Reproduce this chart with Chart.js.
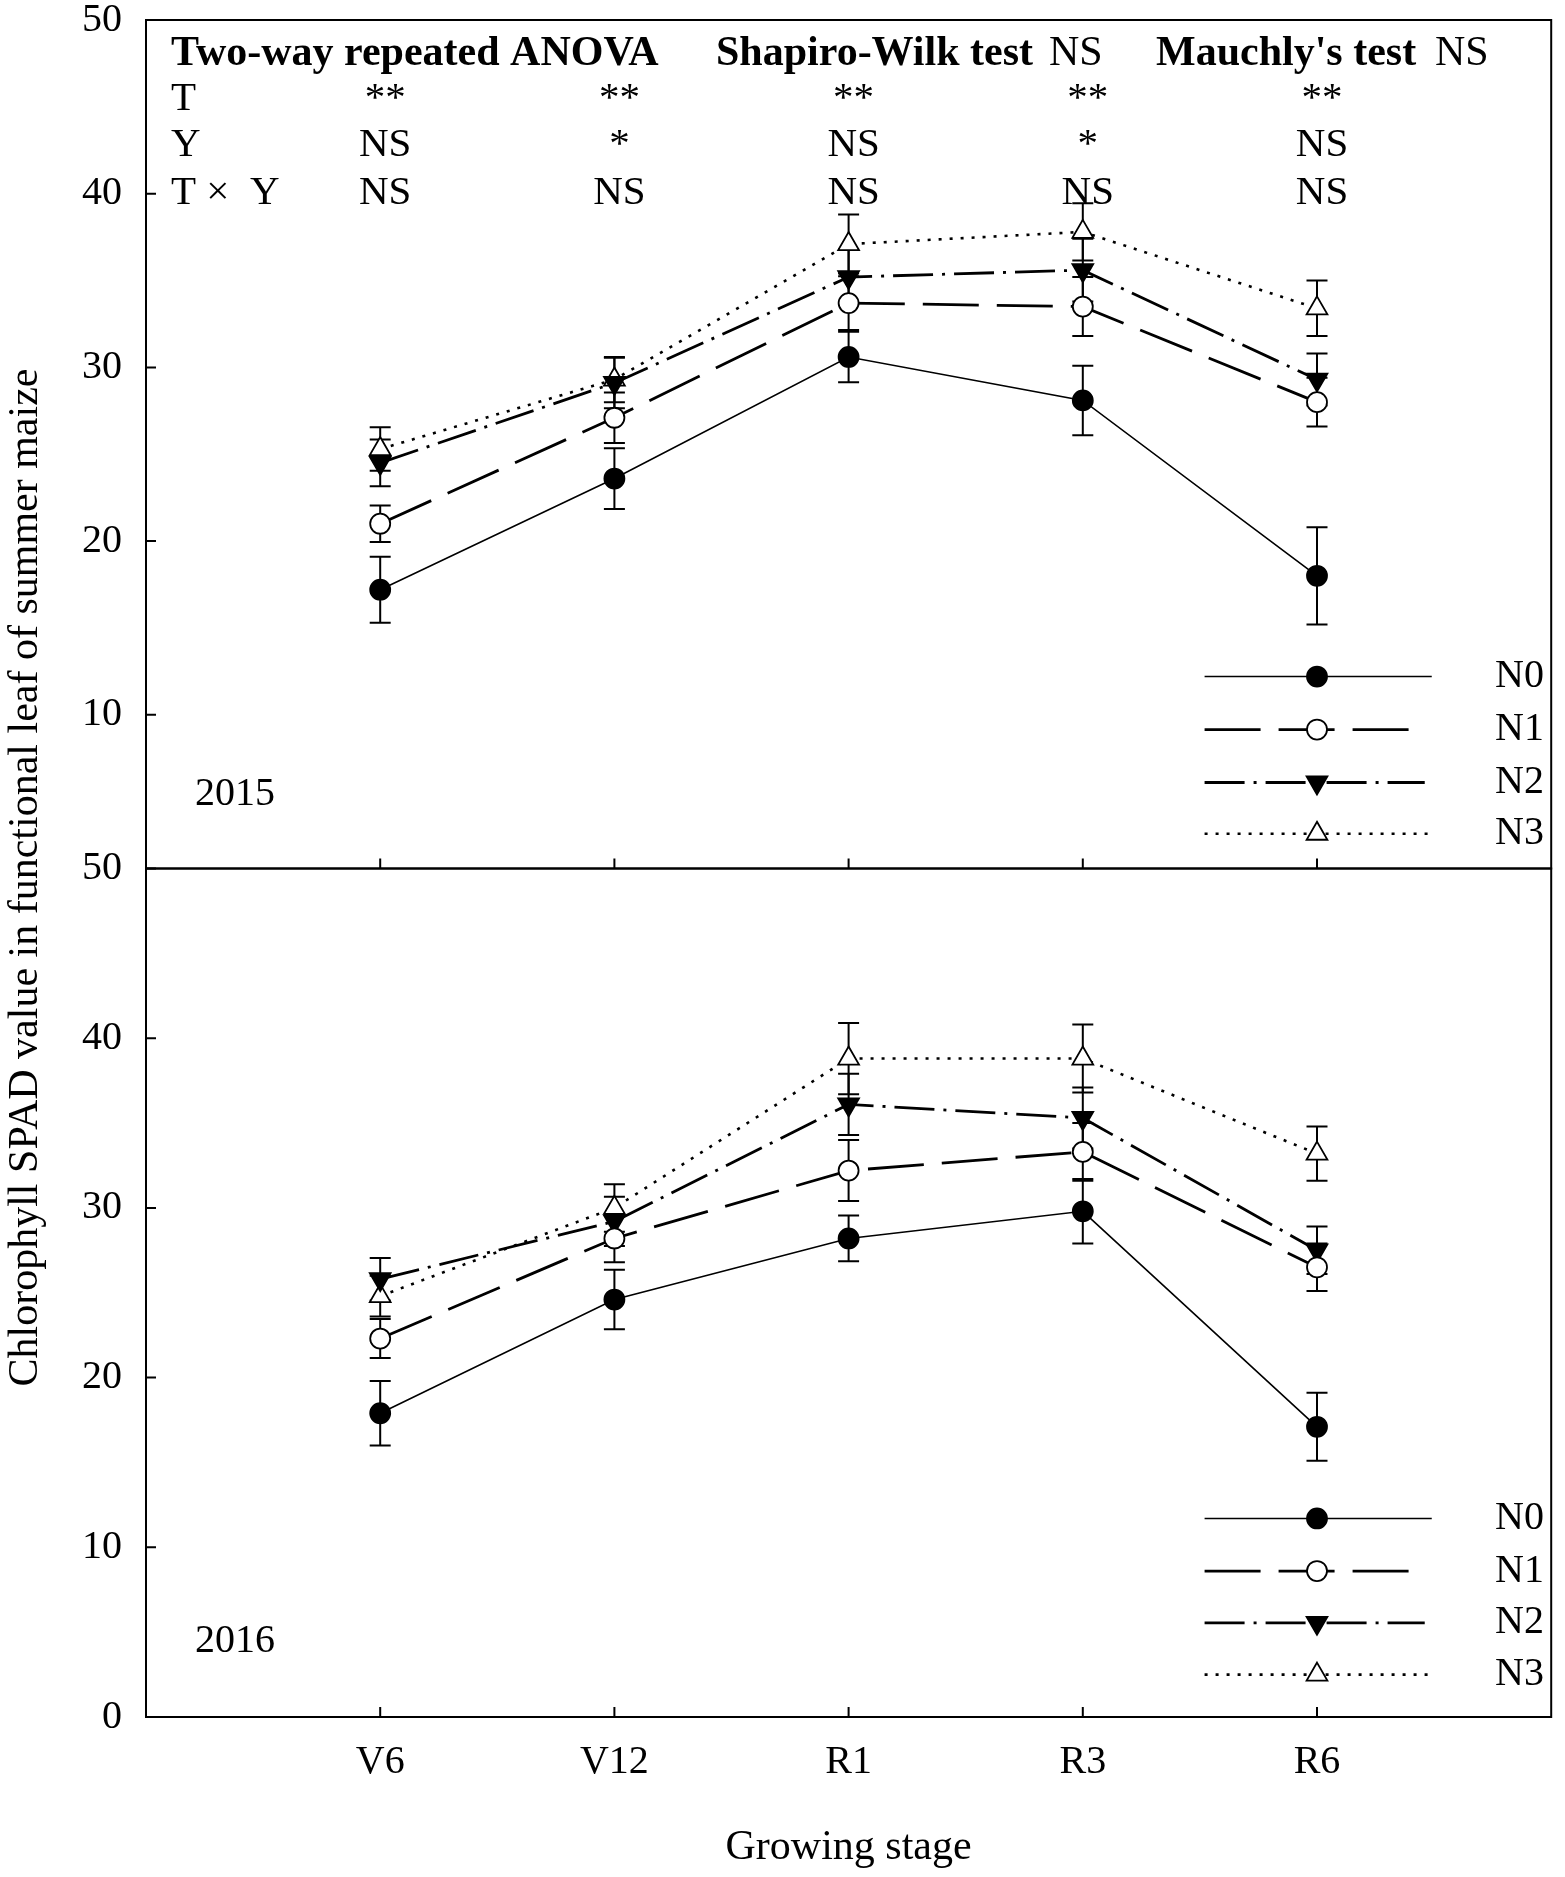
<!DOCTYPE html>
<html>
<head>
  <meta charset="utf-8">
  <title>Chlorophyll SPAD value in functional leaf of summer maize</title>
  <style>
    body {
      margin: 0;
      padding: 0;
      background-color: #ffffff;
    }
    #wrap {
      position: relative;
      width: 1565px;
      height: 1877px;
    }
  </style>
  <script src="https://cdn.jsdelivr.net/npm/chart.js"></script>
</head>
<body>
  <div id="wrap">
    <canvas id="spad_chart" width="1565" height="1877"></canvas>
  </div>

<script>
// x axis categories
const stages = ['V6', 'V12', 'R1', 'R3', 'R6'];
const seriesNames = ['N0', 'N1', 'N2', 'N3'];

// y axis tick labels for each panel
const yTicks2015 = [10, 20, 30, 40, 50];
const yTicks2016 = [0, 10, 20, 30, 40, 50];

// 2015 means
const n0_2015 = [17.2, 23.6, 30.6, 28.1, 18.0];
const n1_2015 = [21.0, 27.1, 33.7, 33.5, 28.0];
const n2_2015 = [24.5, 29.1, 35.2, 35.6, 29.3];
const n3_2015 = [25.3, 29.3, 37.1, 37.8, 33.4];
// 2015 error bars
const n0_2015_err = [1.9, 1.75, 1.45, 2.0, 2.8];
const n1_2015_err = [1.05, 1.45, 1.55, 1.7, 1.4];
const n2_2015_err = [1.35, 1.45, 1.6, 1.8, 1.5];
const n3_2015_err = [1.25, 1.3, 1.7, 1.65, 1.6];

// 2016 means
const n0_2016 = [17.9, 24.6, 28.2, 29.8, 17.1];
const n1_2016 = [22.3, 28.2, 32.2, 33.3, 26.5];
const n2_2016 = [25.8, 29.2, 36.1, 35.3, 27.5];
const n3_2016 = [24.8, 30.0, 38.8, 38.8, 33.2];
// 2016 error bars
const n0_2016_err = [1.9, 1.75, 1.35, 1.9, 2.0];
const n1_2016_err = [1.15, 1.4, 1.8, 1.7, 1.4];
const n2_2016_err = [1.25, 1.45, 1.8, 1.8, 1.4];
const n3_2016_err = [1.2, 1.4, 2.1, 2.0, 1.6];

// ANOVA table text
const effectNames = ['T', 'Y', 'T \u00d7  Y'];
const effectT = ['**', '**', '**', '**', '**'];
const effectY = ['NS', '*', 'NS', '*', 'NS'];
const effectTY = ['NS', 'NS', 'NS', 'NS', 'NS'];

const FONT = "'Liberation Serif', 'Times New Roman', serif";

// line / marker style of each treatment (legendEnd = where the legend line stops, x units)
const seriesStyle = [
  { dash: [], width: 1.6, point: 'circle', fill: '#000000', radius: 10, rotation: 0, legendEnd: 4.49 },
  { dash: [56, 18], width: 2.8, point: 'circle', fill: '#ffffff', radius: 10, rotation: 0, legendEnd: 4.405 },
  { dash: [40, 9, 3, 9], width: 2.8, point: 'triangle', fill: '#000000', radius: 12, rotation: 180, legendEnd: 4.46 },
  { dash: [3, 8], width: 2.6, point: 'triangle', fill: '#ffffff', radius: 12, rotation: 0, legendEnd: 4.49 }
];

function makeSets(year, axisId, means, errs) {
  return means.map(function (vals, k) {
    var st = seriesStyle[k];
    return {
      label: seriesNames[k] + ' ' + year,
      data: vals.map(function (v, i) { return { x: i, y: v }; }),
      errors: errs[k],
      yAxisID: axisId,
      borderColor: '#000000',
      borderWidth: st.width,
      borderDash: st.dash,
      fill: false,
      tension: 0,
      pointStyle: st.point,
      pointRotation: st.rotation,
      pointRadius: st.radius,
      pointHoverRadius: st.radius,
      pointBackgroundColor: st.fill,
      pointBorderColor: '#000000',
      pointBorderWidth: 1.8
    };
  });
}

var datasets = makeSets('2015', 'y15',
  [n0_2015, n1_2015, n2_2015, n3_2015],
  [n0_2015_err, n1_2015_err, n2_2015_err, n3_2015_err]
).concat(makeSets('2016', 'y16',
  [n0_2016, n1_2016, n2_2016, n3_2016],
  [n0_2016_err, n1_2016_err, n2_2016_err, n3_2016_err]
));

// legend marker, same geometry as chart.js point styles
function drawMarker(ctx, st, x, y) {
  ctx.save();
  ctx.setLineDash([]);
  ctx.lineWidth = 1.8;
  ctx.strokeStyle = '#000000';
  ctx.fillStyle = st.fill;
  ctx.beginPath();
  if (st.point === 'circle') {
    ctx.arc(x, y, st.radius, 0, Math.PI * 2);
  } else {
    var rad = st.rotation * Math.PI / 180;
    for (var n = 0; n < 3; n++) {
      var px = x + Math.sin(rad) * st.radius;
      var py = y - Math.cos(rad) * st.radius;
      if (n === 0) ctx.moveTo(px, py); else ctx.lineTo(px, py);
      rad += Math.PI * 2 / 3;
    }
    ctx.closePath();
  }
  ctx.fill();
  ctx.stroke();
  ctx.restore();
}

// where the decorations go (values on the panel scales)
const layout = {
  headerY: 48.05,
  rowY: [45.45, 42.8, 40.0],
  rowLabelX: 25,
  colShift: 5,
  header: [
    { text: 'Two-way repeated ANOVA', x: 25, bold: true },
    { text: 'Shapiro-Wilk test', x: 570, bold: true },
    { text: 'NS', x: 903, bold: false },
    { text: "Mauchly's test", x: 1010, bold: true },
    { text: 'NS', x: 1289, bold: false }
  ],
  yearX: 49,
  yearY: { y15: 5.4, y16: 4.45 },
  legendY: { y15: [12.2, 9.15, 6.1, 3.15], y16: [11.7, 8.6, 5.55, 2.5] },
  legendStart: 3.52,
  legendMark: 4.0,
  legendText: 4.76,
  tickLen: 10
};

const decorPlugin = {
  id: 'decor',
  beforeDatasetsDraw: function (chart) {
    // error bars under the lines and markers
    var ctx = chart.ctx;
    ctx.save();
    ctx.strokeStyle = '#000000';
    ctx.lineWidth = 2;
    ctx.setLineDash([]);
    chart.data.datasets.forEach(function (ds, i) {
      var meta = chart.getDatasetMeta(i);
      var ys = chart.scales[ds.yAxisID];
      meta.data.forEach(function (pt, j) {
        var v = ds.data[j].y;
        var e = ds.errors[j];
        var top = ys.getPixelForValue(v + e);
        var bot = ys.getPixelForValue(v - e);
        ctx.beginPath();
        ctx.moveTo(pt.x, top);
        ctx.lineTo(pt.x, bot);
        ctx.moveTo(pt.x - 10.5, top);
        ctx.lineTo(pt.x + 10.5, top);
        ctx.moveTo(pt.x - 10.5, bot);
        ctx.lineTo(pt.x + 10.5, bot);
        ctx.stroke();
      });
    });
    ctx.restore();
  },
  afterDraw: function (chart) {
    var ctx = chart.ctx;
    var area = chart.chartArea;
    var xs = chart.scales.x;
    var panels = [chart.scales.y15, chart.scales.y16];
    ctx.save();
    ctx.strokeStyle = '#000000';
    ctx.fillStyle = '#000000';
    ctx.setLineDash([]);

    // panel frames and inward ticks
    ctx.lineWidth = 2;
    panels.forEach(function (ys, p) {
      ctx.strokeRect(area.left, ys.top, area.right - area.left, ys.bottom - ys.top);
      var ticks = p === 0 ? yTicks2015 : yTicks2016;
      ctx.beginPath();
      ticks.forEach(function (v) {
        var y = ys.getPixelForValue(v);
        ctx.moveTo(area.left, y);
        ctx.lineTo(area.left + layout.tickLen, y);
      });
      stages.forEach(function (s, i) {
        var x = xs.getPixelForValue(i);
        ctx.moveTo(x, ys.bottom);
        ctx.lineTo(x, ys.bottom - layout.tickLen);
      });
      ctx.stroke();
    });

    // ANOVA table
    var ys15 = chart.scales.y15;
    ctx.textBaseline = 'middle';
    ctx.textAlign = 'left';
    layout.header.forEach(function (h) {
      ctx.font = (h.bold ? 'bold ' : '') + '42px ' + FONT;
      ctx.fillText(h.text, area.left + h.x, ys15.getPixelForValue(layout.headerY));
    });
    ctx.font = '41px ' + FONT;
    [effectT, effectY, effectTY].forEach(function (row, r) {
      var y = ys15.getPixelForValue(layout.rowY[r]);
      ctx.textAlign = 'left';
      ctx.fillText(effectNames[r], area.left + layout.rowLabelX, y);
      ctx.textAlign = 'center';
      row.forEach(function (t, i) {
        ctx.fillText(t, xs.getPixelForValue(i) + layout.colShift, y);
      });
    });

    // year labels and legends
    ['y15', 'y16'].forEach(function (id) {
      var ys = chart.scales[id];
      ctx.font = '40px ' + FONT;
      ctx.textAlign = 'left';
      ctx.fillText(id === 'y15' ? '2015' : '2016', area.left + layout.yearX, ys.getPixelForValue(layout.yearY[id]));
      seriesStyle.forEach(function (st, k) {
        var y = ys.getPixelForValue(layout.legendY[id][k]);
        ctx.save();
        ctx.lineWidth = st.width;
        ctx.setLineDash(st.dash);
        ctx.beginPath();
        ctx.moveTo(xs.getPixelForValue(layout.legendStart), y);
        ctx.lineTo(xs.getPixelForValue(st.legendEnd), y);
        ctx.stroke();
        ctx.restore();
        drawMarker(ctx, st, xs.getPixelForValue(layout.legendMark), y);
        ctx.fillText(seriesNames[k], xs.getPixelForValue(layout.legendText), y);
      });
    });

    // shared y axis title
    ctx.save();
    ctx.translate(26, (area.top + area.bottom) / 2 + 9);
    ctx.rotate(-Math.PI / 2);
    ctx.textAlign = 'center';
    ctx.font = '42px ' + FONT;
    ctx.fillText('Chlorophyll SPAD value in functional leaf of summer maize', 0, 0);
    ctx.restore();

    ctx.restore();
  }
};

var tickFont = { family: FONT, size: 40 };

// fixed axis width, and no extra room for the end labels
function fitY(scale) {
  scale.width = 100;
  scale.paddingTop = 0;
  scale.paddingBottom = 0;
}

var spadChart = new Chart(document.getElementById('spad_chart'), {
  type: 'line',
  data: { datasets: datasets },
  options: {
    responsive: false,
    animation: false,
    events: [],
    layout: { padding: { left: 46, right: 5, top: 20, bottom: 0 } },
    plugins: {
      legend: { display: false },
      tooltip: { enabled: false }
    },
    scales: {
      x: {
        type: 'linear',
        position: 'bottom',
        min: -1,
        max: 5,
        grid: { display: false, drawTicks: false },
        border: { display: false },
        afterBuildTicks: function (scale) {
          scale.ticks = stages.map(function (s, i) { return { value: i }; });
        },
        afterFit: function (scale) {
          scale.height = 160;
          scale.paddingLeft = 0;
          scale.paddingRight = 0;
        },
        ticks: {
          autoSkip: false,
          maxRotation: 0,
          padding: 21,
          color: '#000000',
          font: tickFont,
          callback: function (v) { return stages[v]; }
        },
        title: {
          display: true,
          text: 'Growing stage',
          color: '#000000',
          font: { family: FONT, size: 42 },
          padding: { top: 0, bottom: 4 }
        }
      },
      y16: {
        type: 'linear',
        position: 'left',
        stack: 'panels',
        stackWeight: 1,
        weight: 0,
        min: 0,
        max: 50,
        grid: { display: false, drawTicks: false },
        border: { display: false },
        afterBuildTicks: function (scale) {
          scale.ticks = yTicks2016.map(function (v) { return { value: v }; });
        },
        afterFit: fitY,
        ticks: { padding: 24, color: '#000000', font: tickFont }
      },
      y15: {
        type: 'linear',
        position: 'left',
        stack: 'panels',
        stackWeight: 1,
        weight: 1,
        min: 1.15,
        max: 50,
        grid: { display: false, drawTicks: false },
        border: { display: false },
        afterBuildTicks: function (scale) {
          scale.ticks = yTicks2015.map(function (v) { return { value: v }; });
        },
        afterFit: fitY,
        ticks: { padding: 24, color: '#000000', font: tickFont }
      }
    }
  },
  plugins: [decorPlugin]
});
</script>
</body>
</html>
